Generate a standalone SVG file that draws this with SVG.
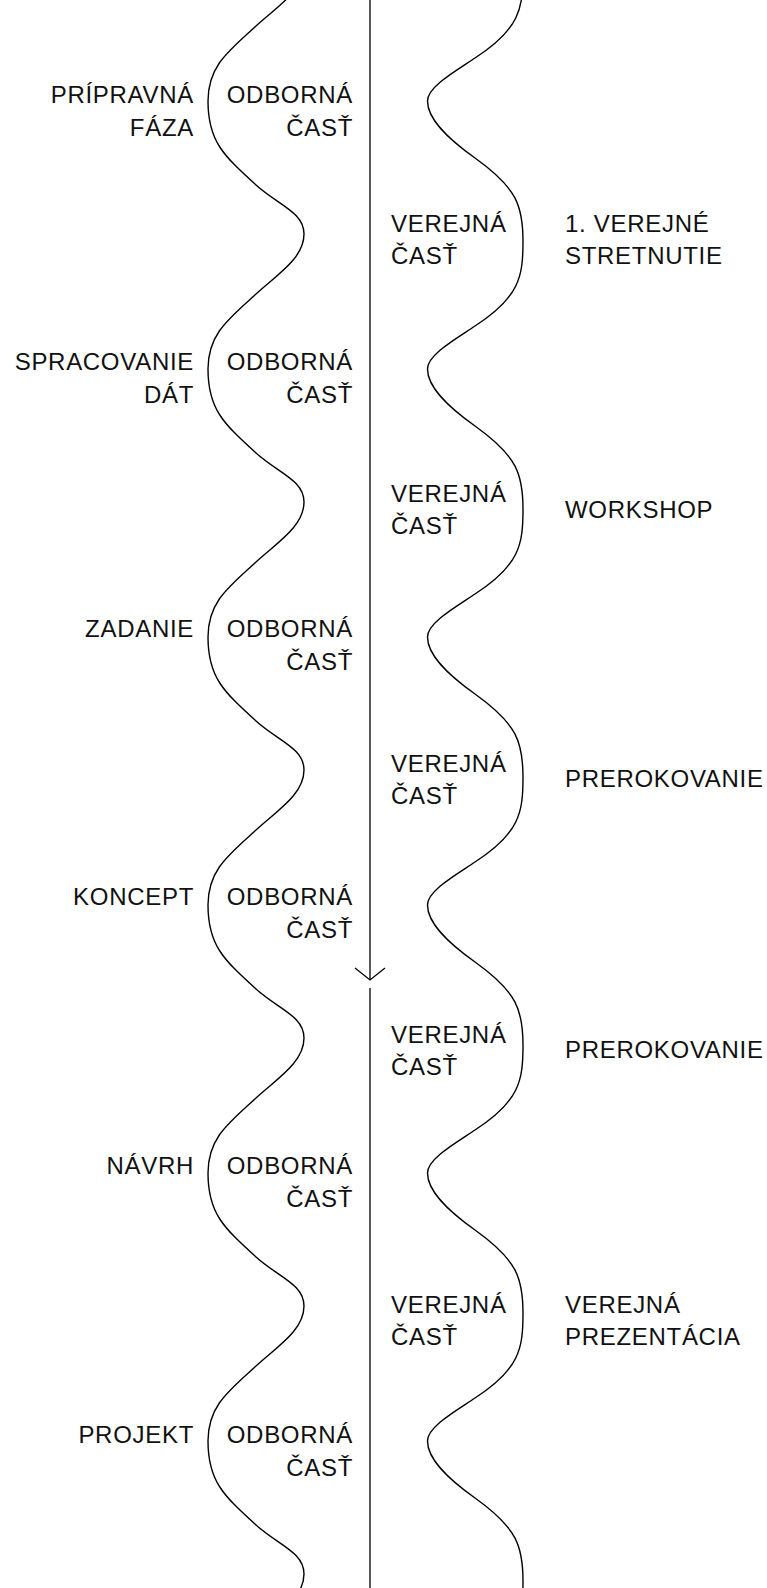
<svg xmlns="http://www.w3.org/2000/svg" width="767" height="1588" viewBox="0 0 767 1588">
  <style>
    text { font-family: "Liberation Sans", Arial, sans-serif; font-size: 24px; letter-spacing: 0.7px; fill: #111; }
    .end { text-anchor: end; }
    .wave { fill: none; stroke: #000; stroke-width: 1.4; }
    .axis { fill: none; stroke: #000; stroke-width: 1.3; }
  </style>
  <defs>
    <marker id="chev" viewBox="-14 -17 16 34" refX="0" refY="0" markerWidth="16" markerHeight="34" markerUnits="userSpaceOnUse" orient="auto">
      <path d="M-12,-15 L0,0 L-12,15" fill="none" stroke="#000" stroke-width="1.3"/>
    </marker>
  </defs>
  <rect width="767" height="1588" fill="#fff"/>

  <g id="waves">
    <path id="wave-left" class="wave" d="M256,-242
      c -27.5,25 -48,40 -48,75 c 0,40 15,54 48,84 c 22,20 48,27 48,49 c 0,24 -26,40 -48,60
      c -27.5,25 -48,40 -48,75 c 0,40 15,54 48,84 c 22,20 48,27 48,49 c 0,24 -26,40 -48,60
      c -27.5,25 -48,40 -48,75 c 0,40 15,54 48,84 c 22,20 48,27 48,49 c 0,24 -26,40 -48,60
      c -27.5,25 -48,40 -48,75 c 0,40 15,54 48,84 c 22,20 48,27 48,49 c 0,24 -26,40 -48,60
      c -27.5,25 -48,40 -48,75 c 0,40 15,54 48,84 c 22,20 48,27 48,49 c 0,24 -26,40 -48,60
      c -27.5,25 -48,40 -48,75 c 0,40 15,54 48,84 c 22,20 48,27 48,49 c 0,24 -26,40 -48,60
      c -27.5,25 -48,40 -48,75 c 0,40 15,54 48,84 c 22,20 48,27 48,49 c 0,24 -26,40 -48,60"/>
    <path id="wave-right" class="wave" d="M475,-210
      c -21,14 -47.5,29 -47.5,43 c 0,18 19.5,37 47.5,57 c 42,30 48,48 48,83 c 0,35 -3,56 -48,85
      c -21,14 -47.5,29 -47.5,43 c 0,18 19.5,37 47.5,57 c 42,30 48,48 48,83 c 0,35 -3,56 -48,85
      c -21,14 -47.5,29 -47.5,43 c 0,18 19.5,37 47.5,57 c 42,30 48,48 48,83 c 0,35 -3,56 -48,85
      c -21,14 -47.5,29 -47.5,43 c 0,18 19.5,37 47.5,57 c 42,30 48,48 48,83 c 0,35 -3,56 -48,85
      c -21,14 -47.5,29 -47.5,43 c 0,18 19.5,37 47.5,57 c 42,30 48,48 48,83 c 0,35 -3,56 -48,85
      c -21,14 -47.5,29 -47.5,43 c 0,18 19.5,37 47.5,57 c 42,30 48,48 48,83 c 0,35 -3,56 -48,85
      c -21,14 -47.5,29 -47.5,43 c 0,18 19.5,37 47.5,57 c 42,30 48,48 48,83 c 0,35 -3,56 -48,85"/>
  </g>

  <g id="connectors">
    <path class="axis" d="M370,0 V980" marker-end="url(#chev)"/>
    <path class="axis" d="M370,988 V1588"/>
  </g>

  <!-- left phase labels -->
  <g id="phase-1"><text class="end" x="194" y="103">PRÍPRAVNÁ</text><text class="end" x="194" y="136">FÁZA</text></g>
  <g id="phase-2"><text class="end" x="194" y="370">SPRACOVANIE</text><text class="end" x="194" y="403">DÁT</text></g>
  <g id="phase-3"><text class="end" x="194" y="637">ZADANIE</text></g>
  <g id="phase-4"><text class="end" x="194" y="905">KONCEPT</text></g>
  <g id="phase-5"><text class="end" x="194" y="1174">NÁVRH</text></g>
  <g id="phase-6"><text class="end" x="194" y="1443">PROJEKT</text></g>

  <!-- expert parts -->
  <g id="expert-1"><text class="end" x="353" y="103">ODBORNÁ</text><text class="end" x="353" y="136">ČASŤ</text></g>
  <g id="expert-2"><text class="end" x="353" y="370">ODBORNÁ</text><text class="end" x="353" y="403">ČASŤ</text></g>
  <g id="expert-3"><text class="end" x="353" y="637">ODBORNÁ</text><text class="end" x="353" y="670">ČASŤ</text></g>
  <g id="expert-4"><text class="end" x="353" y="905">ODBORNÁ</text><text class="end" x="353" y="938">ČASŤ</text></g>
  <g id="expert-5"><text class="end" x="353" y="1174">ODBORNÁ</text><text class="end" x="353" y="1207">ČASŤ</text></g>
  <g id="expert-6"><text class="end" x="353" y="1443">ODBORNÁ</text><text class="end" x="353" y="1476">ČASŤ</text></g>

  <!-- public parts -->
  <g id="public-1"><text x="391" y="232">VEREJNÁ</text><text x="391" y="264">ČASŤ</text></g>
  <g id="public-2"><text x="391" y="502">VEREJNÁ</text><text x="391" y="534">ČASŤ</text></g>
  <g id="public-3"><text x="391" y="772">VEREJNÁ</text><text x="391" y="804">ČASŤ</text></g>
  <g id="public-4"><text x="391" y="1043">VEREJNÁ</text><text x="391" y="1075">ČASŤ</text></g>
  <g id="public-5"><text x="391" y="1313">VEREJNÁ</text><text x="391" y="1345">ČASŤ</text></g>

  <!-- public events -->
  <g id="event-1"><text x="565" y="232">1. VEREJNÉ</text><text x="565" y="264">STRETNUTIE</text></g>
  <g id="event-2"><text x="565" y="518">WORKSHOP</text></g>
  <g id="event-3"><text x="565" y="787">PREROKOVANIE</text></g>
  <g id="event-4"><text x="565" y="1058">PREROKOVANIE</text></g>
  <g id="event-5"><text x="565" y="1313">VEREJNÁ</text><text x="565" y="1345">PREZENTÁCIA</text></g>
</svg>
